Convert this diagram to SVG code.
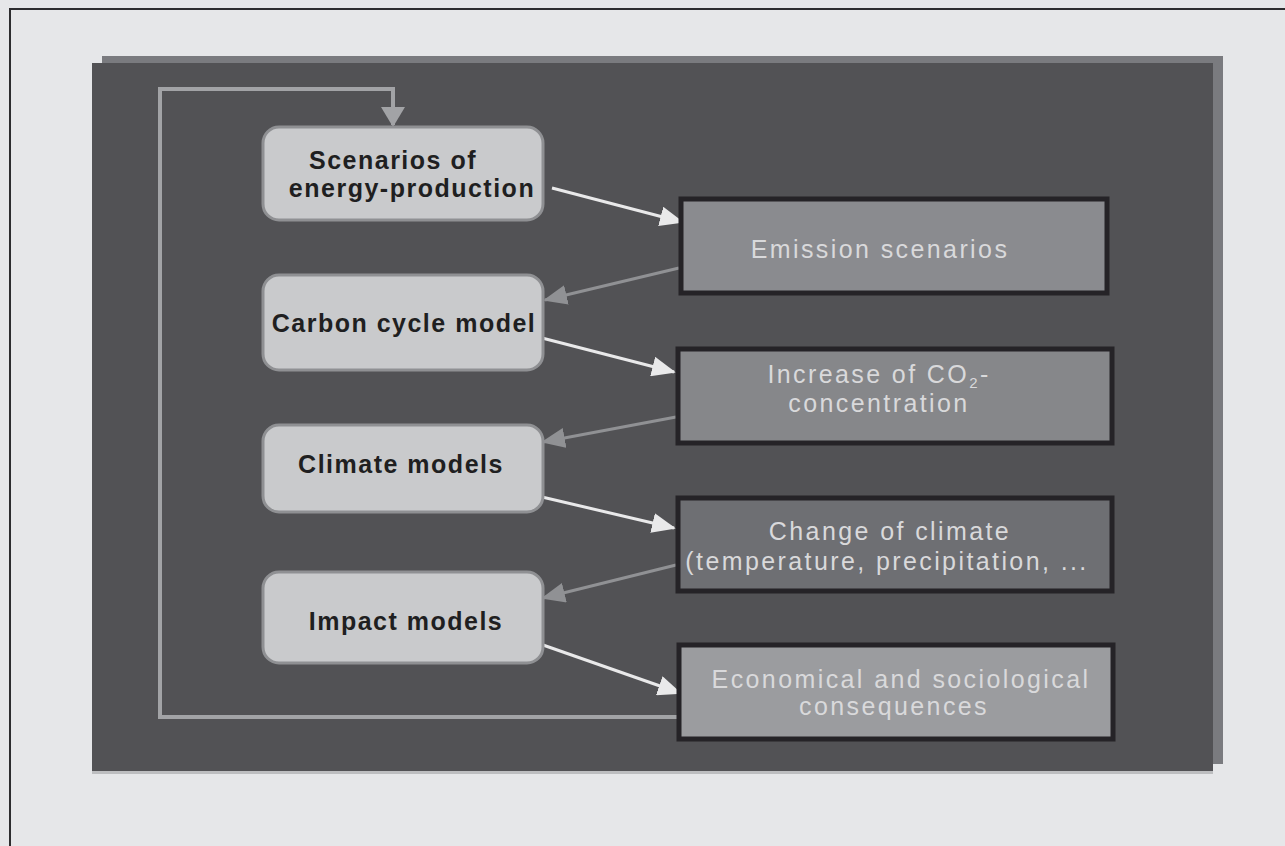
<svg xmlns="http://www.w3.org/2000/svg" width="1285" height="846" viewBox="0 0 1285 846">
  <style>
    .model rect { fill: #c9cacc; stroke: #8f9093; stroke-width: 3; }
    .model text { font-family: "Liberation Sans", Arial, sans-serif; font-size: 25px; font-weight: bold; fill: #1f1f21; letter-spacing: 1.5px; text-anchor: middle; }
    .result rect { stroke: #252327; stroke-width: 5; }
    .result text { font-family: "Liberation Sans", Arial, sans-serif; font-size: 25px; fill: #d9d9db; letter-spacing: 2.4px; text-anchor: middle; }
    .fwd { stroke: #e9e9ea; stroke-width: 3; fill: none; marker-end: url(#headWhite); }
    .back { stroke: #909194; stroke-width: 3; fill: none; marker-end: url(#headGray); }
    .loop { stroke: #a2a3a6; stroke-width: 4; fill: none; marker-end: url(#headLoop); }
  </style>
  <defs>
    <marker id="headWhite" viewBox="0 0 24 20" refX="22" refY="10" markerWidth="24" markerHeight="20" markerUnits="userSpaceOnUse" orient="auto">
      <path d="M0,0 L24,10 L0,20 z" fill="#e9e9ea"/>
    </marker>
    <marker id="headGray" viewBox="0 0 24 20" refX="22" refY="10" markerWidth="24" markerHeight="20" markerUnits="userSpaceOnUse" orient="auto">
      <path d="M0,0 L24,10 L0,20 z" fill="#909194"/>
    </marker>
    <marker id="headLoop" viewBox="0 0 20 24" refX="18" refY="12" markerWidth="20" markerHeight="24" markerUnits="userSpaceOnUse" orient="auto">
      <path d="M0,0 L20,12 L0,24 z" fill="#a2a3a6"/>
    </marker>
  </defs>

  <!-- page background and frame -->
  <rect x="0" y="0" width="1285" height="846" fill="#e6e7e9"/>
  <path d="M10,846 V9 H1285" fill="none" stroke="#2d2d2f" stroke-width="2"/>

  <!-- dark panel with its offset shadow -->
  <rect x="102" y="56" width="1121" height="708" fill="#7a7b7f"/>
  <rect x="92" y="63" width="1121" height="708" fill="#525255"/>
  <rect x="92" y="771" width="1121" height="3" fill="#bdbec0"/>

  <!-- connectors -->
  <g id="connectors">
    <path class="loop" d="M679,717 H160 V89 H393 V125"/>
    <line class="fwd" x1="552" y1="188" x2="682" y2="222"/>
    <line class="back" x1="679" y1="268" x2="545" y2="300"/>
    <line class="fwd" x1="542" y1="338" x2="674" y2="372"/>
    <line class="back" x1="676" y1="417" x2="543" y2="442"/>
    <line class="fwd" x1="542" y1="497" x2="674" y2="528"/>
    <line class="back" x1="676" y1="565" x2="543" y2="598"/>
    <line class="fwd" x1="543" y1="645" x2="680" y2="693"/>
  </g>

  <!-- model boxes -->
  <g id="energy-scenarios" class="model">
    <rect x="263" y="127" width="280" height="93" rx="16"/>
    <text x="393" y="169">Scenarios of</text>
    <text x="412" y="197">energy-production</text>
  </g>
  <g id="carbon-cycle" class="model">
    <rect x="263" y="275" width="280" height="95" rx="16"/>
    <text x="404" y="332">Carbon cycle model</text>
  </g>
  <g id="climate-models" class="model">
    <rect x="263" y="425" width="280" height="87" rx="16"/>
    <text x="401" y="473">Climate models</text>
  </g>
  <g id="impact-models" class="model">
    <rect x="263" y="572" width="280" height="91" rx="16"/>
    <text x="406" y="630">Impact models</text>
  </g>

  <!-- result boxes -->
  <g id="emission" class="result">
    <rect x="681" y="199" width="426" height="94" fill="#8a8b8f"/>
    <text x="880" y="258">Emission scenarios</text>
  </g>
  <g id="co2-increase" class="result">
    <rect x="678" y="349" width="434" height="94" fill="#86878a"/>
    <text x="879" y="383">Increase of CO<tspan font-size="15" dy="5">2</tspan><tspan dy="-5">-</tspan></text>
    <text x="879" y="412">concentration</text>
  </g>
  <g id="climate-change" class="result">
    <rect x="678" y="498" width="434" height="93" fill="#6e6f73"/>
    <text x="890" y="540">Change of climate</text>
    <text x="887" y="570">(temperature, precipitation, ...</text>
  </g>
  <g id="consequences" class="result">
    <rect x="679" y="645" width="434" height="94" fill="#9b9c9f"/>
    <text x="901" y="688">Economical and sociological</text>
    <text x="894" y="715">consequences</text>
  </g>
</svg>
